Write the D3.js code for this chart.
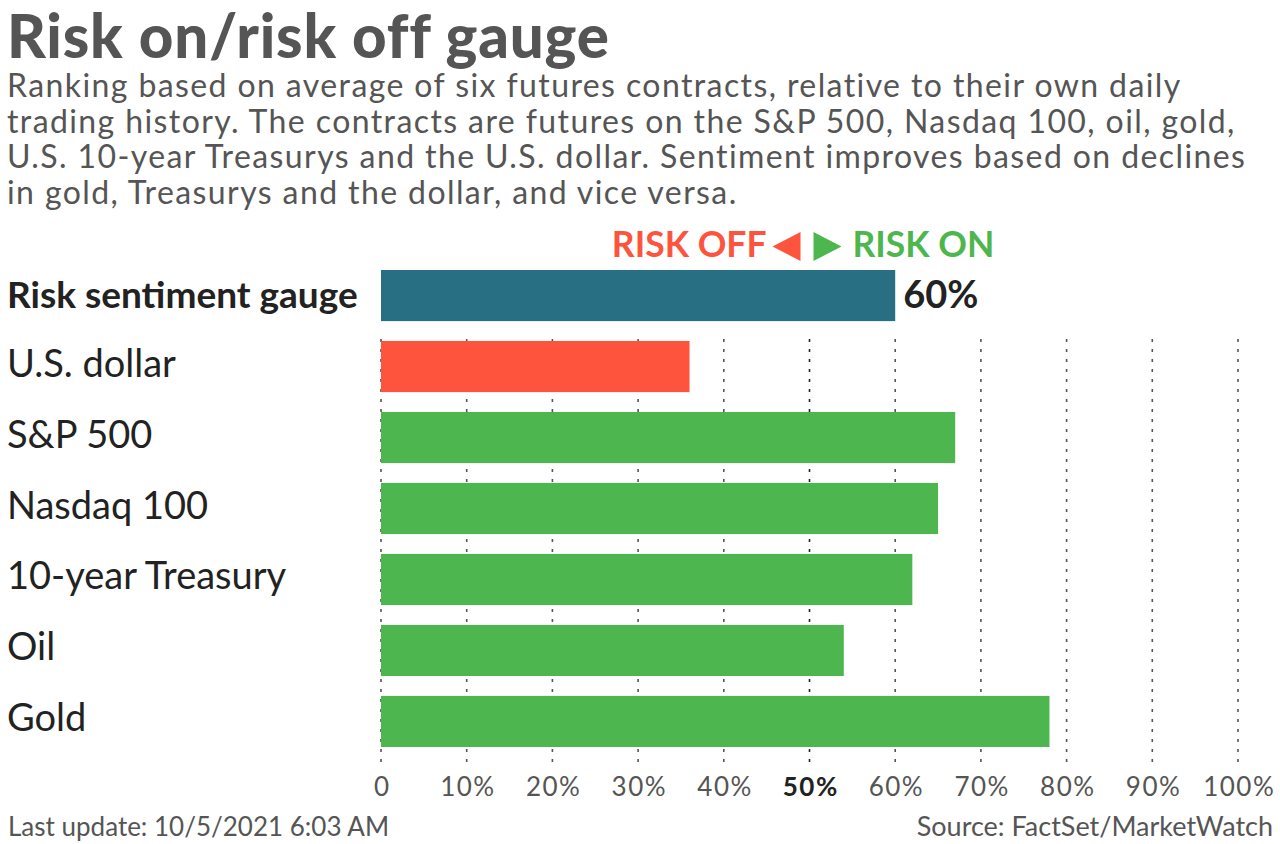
<!DOCTYPE html>
<html>
<head>
<meta charset="utf-8">
<script src="https://cdn.jsdelivr.net/npm/d3@7"></script>
<style>
  html, body { margin: 0; padding: 0; background: #fff; }
  svg { display: block; font-family: Lato, "Open Sans", sans-serif; }
</style>
</head>
<body>
<svg id="chart" width="1280" height="844"></svg>
<script>
const categories = ["Risk sentiment gauge", "U.S. dollar", "S&P 500", "Nasdaq 100", "10-year Treasury", "Oil", "Gold"];
const values = [60, 36, 67, 65, 62, 54, 78];
const ticks = [0, 10, 20, 30, 40, 50, 60, 70, 80, 90, 100];
const subtitleLines = [
  "Ranking based on average of six futures contracts, relative to their own daily",
  "trading history. The contracts are futures on the S&P 500, Nasdaq 100, oil, gold,",
  "U.S. 10-year Treasurys and the U.S. dollar. Sentiment improves based on declines",
  "in gold, Treasurys and the dollar, and vice versa."
];

const red = "#fe543d";
const green = "#4db64f";
const teal = "#296f84";

const svg = d3.select("#chart");

// header
svg.append("text")
  .attr("x", 7).attr("y", 58)
  .style("font-size", "60px").style("font-weight", 900).style("letter-spacing", "0.8px").style("fill", "#555")
  .text("Risk on/risk off gauge");

svg.append("g").selectAll("text")
  .data(subtitleLines)
  .enter()
  .append("text")
  .attr("x", 7)
  .attr("y", (d, i) => 97 + i * 35.5)
  .style("font-size", "32px").style("letter-spacing", "1.4px").style("fill", "#555")
  .text(d => d);

const x = d3.scaleLinear().domain([0, 100]).range([381, 1238]);
const y = d3.scaleBand().domain(categories).range([270, 747]).paddingInner(0.28).paddingOuter(0);

// grid lines
svg.append("g").selectAll("line")
  .data(ticks)
  .enter()
  .append("line")
  .attr("x1", d => x(d)).attr("x2", d => x(d))
  .attr("y1", 339).attr("y2", 766)
  .attr("stroke", d => d === 50 ? "#222" : "#555")
  .attr("stroke-width", 1.6)
  .attr("stroke-dasharray", "3,7");

// bars
svg.append("g").selectAll("rect")
  .data(categories)
  .enter()
  .append("rect")
  .attr("x", x(0))
  .attr("y", d => y(d))
  .attr("height", y.bandwidth())
  .attr("width", (d, i) => x(values[i]) - x(0))
  .attr("fill", (d, i) => i === 0 ? teal : (values[i] < 50 ? red : green));

// category labels
svg.append("g").selectAll("text")
  .data(categories)
  .enter()
  .append("text")
  .attr("x", 7)
  .attr("y", (d, i) => y(d) + y.bandwidth() / 2 + (i === 0 ? 12 : 10))
  .style("font-size", (d, i) => i === 0 ? "37px" : "38px")
  .style("font-weight", (d, i) => i === 0 ? 700 : 400)
  .style("fill", "#222")
  .text(d => d);

// gauge value label
svg.append("text")
  .attr("x", x(values[0]) + 8)
  .attr("y", y(categories[0]) + y.bandwidth() / 2 + 12)
  .style("font-size", "38px").style("font-weight", 700).style("fill", "#222")
  .text(values[0] + "%");

// risk off / risk on header
const mid = x(50);
svg.append("text")
  .attr("x", mid - 43).attr("y", 257)
  .attr("text-anchor", "end")
  .style("font-size", "35.5px").style("font-weight", 700).style("fill", red)
  .text("RISK OFF");
svg.append("path")
  .attr("d", `M${mid - 37},${246.5} L${mid - 9},${232} L${mid - 9},${261} Z`)
  .attr("fill", red);
svg.append("path")
  .attr("d", `M${mid + 4},${232} L${mid + 32},${246.5} L${mid + 4},${261} Z`)
  .attr("fill", green);
svg.append("text")
  .attr("x", mid + 43).attr("y", 257)
  .style("font-size", "35.5px").style("font-weight", 700).style("fill", green)
  .text("RISK ON");

// axis labels
const xAxis = d3.axisBottom(x)
  .tickValues(ticks)
  .tickSize(0)
  .tickFormat(d => d === 0 ? "0" : d + "%");
const axisG = svg.append("g")
  .attr("transform", "translate(0,772)")
  .call(xAxis);
axisG.select(".domain").remove();
axisG.selectAll("text")
  .attr("dy", 0).attr("y", 24)
  .attr("dx", d => d === 0 ? 0 : 0.75)
  .style("font-family", "Lato, sans-serif")
  .style("font-size", "26px")
  .style("letter-spacing", d => d === 0 ? "0px" : "1.5px")
  .style("fill", d => d === 50 ? "#222" : "#555")
  .style("font-weight", d => d === 50 ? 700 : 400);

// footer
svg.append("text")
  .attr("x", 8).attr("y", 836)
  .style("font-size", "26px").style("fill", "#555")
  .text("Last update: 10/5/2021 6:03 AM");
svg.append("text")
  .attr("x", 1273).attr("y", 836)
  .attr("text-anchor", "end")
  .style("font-size", "27px").style("fill", "#555")
  .text("Source: FactSet/MarketWatch");
</script>
</body>
</html>
